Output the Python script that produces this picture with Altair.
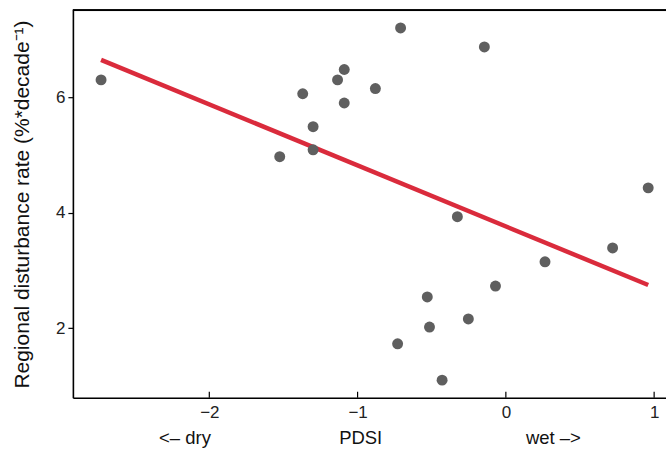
import altair as alt
import pandas as pd

# Data
pdsi = [-2.73, -1.525, -1.37, -1.30, -1.30, -1.135, -1.09, -1.09, -0.88, -0.71,
        -0.145, 0.96, -0.327, 0.72, 0.264, -0.07, -0.53, -0.253, -0.515, -0.73, -0.43]
rate = [6.30, 4.97, 6.06, 5.49, 5.09, 6.30, 6.48, 5.90, 6.15, 7.20,
        6.87, 4.43, 3.93, 3.39, 3.15, 2.73, 2.54, 2.16, 2.02, 1.73, 1.10]
x_ticks = [-2, -1, 0, 1]
y_ticks = [2, 4, 6]

df = pd.DataFrame({"pdsi": pdsi, "rate": rate})
tick_df = pd.DataFrame({"t": x_ticks})

W, H = 594, 388
FONT = "Liberation Sans"
NB = "\u00a0"
x_title = "<– dry" + NB * 25 + "PDSI" + NB * 28 + "wet –>"

x_scale = alt.Scale(domain=[-2.92, 1.08], nice=False, zero=False)
y_scale = alt.Scale(domain=[0.795, 7.505], nice=False, zero=False)

x_enc = alt.X("pdsi:Q", scale=x_scale,
              axis=alt.Axis(values=x_ticks, format="d", title=x_title, ticks=False, grid=False,
                            labelPadding=7, titlePadding=8, labelFontSize=17,
                            titleFontSize=18.5, titleFontWeight="normal",
                            labelColor="#222222", titleColor="#111111",
                            domainColor="black", domainWidth=1.6))
y_enc = alt.Y("rate:Q", scale=y_scale,
              axis=alt.Axis(values=y_ticks, format="d",
                            title="Regional disturbance rate (%*decade⁻¹)",
                            grid=False, tickSize=5, tickColor="black", tickWidth=1.2,
                            labelPadding=3, titlePadding=23, labelFontSize=17,
                            titleFontSize=21, titleFontWeight="normal",
                            labelColor="#222222", titleColor="#111111",
                            domainColor="black", domainWidth=1.6))

points = alt.Chart(df).mark_circle(size=120, color="#5f5f5f", opacity=1).encode(x=x_enc, y=y_enc)

fit = alt.Chart(df).transform_regression("pdsi", "rate").mark_line(
    color="#da2b3c", strokeWidth=4.5).encode(x="pdsi:Q", y="rate:Q")

xticks = alt.Chart(tick_df).mark_rule(color="black", strokeWidth=1.2).encode(
    x="t:Q", y=alt.value(H), y2=alt.value(H - 6))

top_line = alt.Chart(tick_df).mark_rule(color="black", strokeWidth=1.6).encode(
    x=alt.value(0), x2=alt.value(W), y=alt.value(0))

chart = alt.layer(fit, points, xticks, top_line).properties(
    width=W, height=H,
    autosize=alt.AutoSizeParams(type="none"),
    padding={"left": 73, "top": 10, "right": 0, "bottom": 55},
).configure_view(stroke=None).configure(font=FONT)

chart.save("out.html", embed_options={"renderer": "svg", "actions": False})
